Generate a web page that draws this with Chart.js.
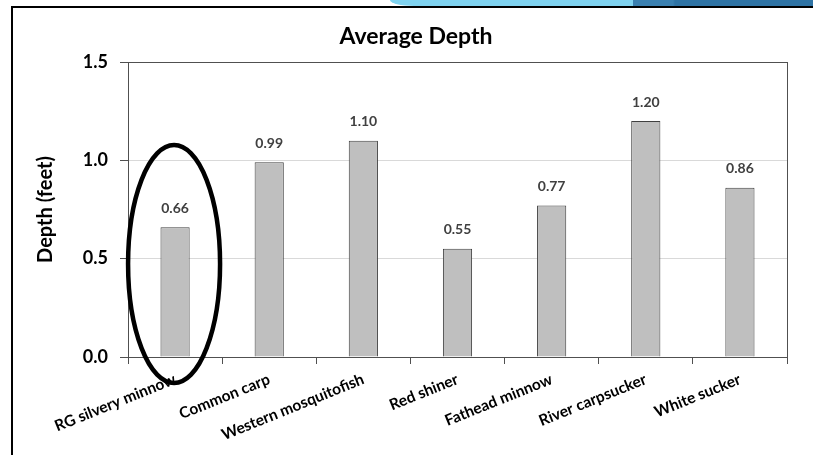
<!DOCTYPE html>
<html>
<head>
<meta charset="utf-8">
<script src="https://cdn.jsdelivr.net/npm/chart.js@4.4.0/dist/chart.umd.min.js"></script>
<style>
  html, body { margin: 0; padding: 0; background: #fff; }
  #wrap { position: relative; width: 813px; height: 455px; overflow: hidden; }
  #frame { position: absolute; left: 11px; top: 6px; width: 900px; height: 600px;
           border-left: 2px solid #000; border-top: 2px solid #000; }
  #bandLight { position: absolute; top: 0; left: 390px; width: 250px; height: 6px;
               background: #7fd3f0; border-bottom-left-radius: 24px 6px; }
  #bandDark { position: absolute; top: 0; left: 633px; width: 180px; height: 6px;
              background: linear-gradient(90deg, #3a80b0 0, #3a80b0 40px, #2e73a4 42px); }
  #chart { position: absolute; left: 0; top: 0; }
</style>
</head>
<body>
<div id="wrap">
  <div id="bandLight"></div>
  <div id="bandDark"></div>
  <div id="frame"></div>
  <canvas id="chart" width="813" height="455"></canvas>
</div>
<script>
const categories = ["RG silvery minnow", "Common carp", "Western mosquitofish", "Red shiner",
                    "Fathead minnow", "River carpsucker", "White sucker"];
const depths = [0.66, 0.99, 1.10, 0.55, 0.77, 1.20, 0.86];
const yTicks = [0, 0.5, 1.0, 1.5];
const chartTitle = "Average Depth";

// circled bar (first category), in value units / pixels
const highlight = { index: 0, value: 0.473, rx: 46, ry: 119 };

const FONT = "Lato, 'Open Sans', sans-serif";
const AXIS = "#505050";

// title is centred on the whole frame, not on the padded box Chart.js uses
const frameTitle = {
  id: "frameTitle",
  afterDraw(chart) {
    const ctx = chart.ctx;
    ctx.save();
    ctx.font = "bold 23px " + FONT;
    ctx.fillStyle = "#000";
    ctx.textAlign = "center";
    ctx.textBaseline = "middle";
    ctx.fillText(chartTitle, 416, 37);
    ctx.restore();
  }
};

const valueLabels = {
  id: "valueLabels",
  afterDatasetsDraw(chart) {
    const ctx = chart.ctx;
    const meta = chart.getDatasetMeta(0);
    ctx.save();
    ctx.font = "bold 14px " + FONT;
    ctx.fillStyle = "#404040";
    ctx.textAlign = "center";
    ctx.textBaseline = "middle";
    meta.data.forEach((bar, i) => {
      ctx.fillText(depths[i].toFixed(2), bar.x, bar.y - 19);
    });
    ctx.restore();
  }
};

const circleMark = {
  id: "circleMark",
  afterDraw(chart) {
    const ctx = chart.ctx;
    const bar = chart.getDatasetMeta(0).data[highlight.index];
    const cy = chart.scales.y.getPixelForValue(highlight.value);
    ctx.save();
    ctx.beginPath();
    ctx.ellipse(bar.x - 1, cy, highlight.rx, highlight.ry, 0, 0, Math.PI * 2);
    ctx.lineWidth = 4.5;
    ctx.strokeStyle = "#000";
    ctx.stroke();
    ctx.restore();
  }
};

new Chart(document.getElementById("chart"), {
  type: "bar",
  data: {
    labels: categories,
    datasets: [{
      data: depths,
      backgroundColor: "#bfbfbf",
      borderColor: "#404040",
      borderWidth: 1,
      barPercentage: 0.31,
      categoryPercentage: 1
    }]
  },
  options: {
    responsive: false,
    animation: false,
    layout: { padding: { left: 12, right: 26, top: 62, bottom: 0 } },
    plugins: {
      legend: { display: false },
      tooltip: { enabled: false },
      title: { display: false }
    },
    scales: {
      x: {
        offset: true,
        grid: {
          offset: true,
          color: c => c.type === "tick" ? "rgba(0,0,0,0)" : AXIS,
          tickColor: AXIS,
          tickLength: 7
        },
        border: { color: AXIS, width: 1 },
        ticks: {
          color: "#000",
          font: { family: FONT, size: 15.5, weight: "bold" },
          minRotation: 22,
          maxRotation: 22,
          autoSkip: false,
          padding: 6
        },
        afterFit: s => { s.height = 98; }
      },
      y: {
        min: 0,
        max: 1.5,
        afterBuildTicks: s => { s.ticks = yTicks.map(v => ({ value: v })); },
        ticks: {
          color: "#000",
          font: { family: FONT, size: 18, weight: "bold" },
          padding: 12,
          callback: v => Number(v).toFixed(1)
        },
        grid: {
          color: c => c.tick && c.tick.value === 1.5 ? AXIS :
                      (c.tick && c.tick.value === 0 ? "rgba(0,0,0,0)" : "#d9d9d9"),
          tickColor: AXIS,
          tickLength: 8
        },
        border: { color: AXIS, width: 1 },
        title: {
          display: true,
          text: "Depth (feet)",
          color: "#000",
          font: { family: FONT, size: 20, weight: "bold" },
          padding: { top: 22, bottom: 0 }
        },
        afterFit: s => { s.width = 116; }
      }
    }
  },
  plugins: [frameTitle, valueLabels, circleMark]
});
</script>
</body>
</html>
